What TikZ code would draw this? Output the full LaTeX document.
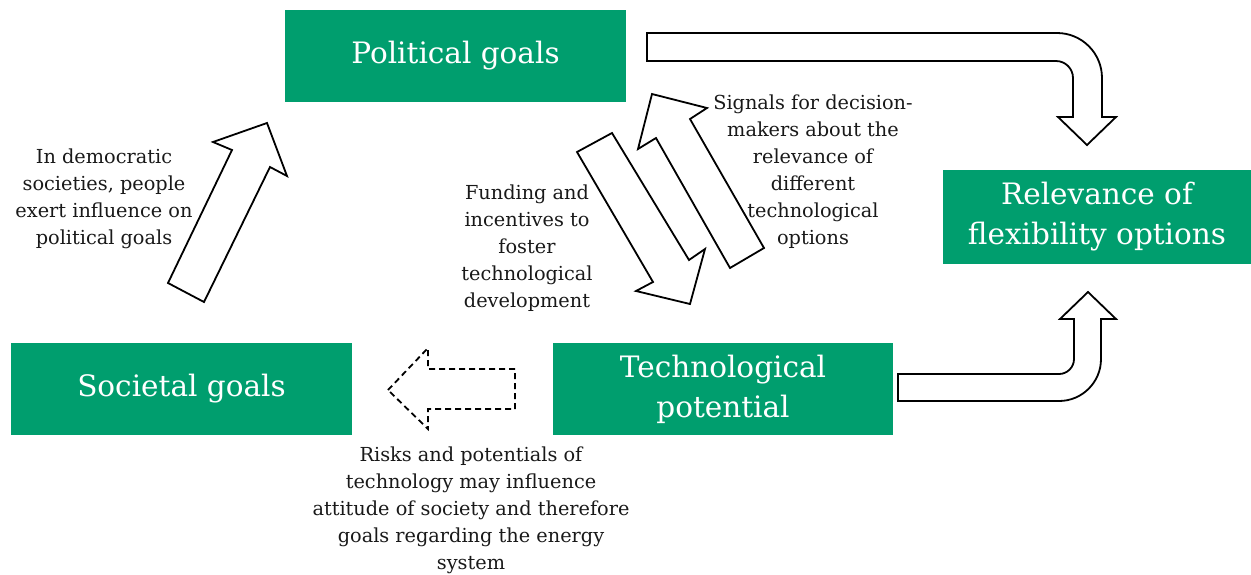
\documentclass[tikz,border=0pt]{standalone}
\usepackage{fontspec}
\setmainfont{DejaVu Serif}
\definecolor{boxgreen}{RGB}{0,158,110}
\tikzset{
  gbox/.style={fill=boxgreen, draw=none, inner sep=0pt, text=white, align=center,
    font=\fontsize{29.5}{40}\selectfont},
  lbl/.style={inner sep=0pt, align=center, text=black!90, font=\fontsize{19.3}{27}\selectfont},
  barrow/.style={draw=black, fill=white, line width=1.8pt, line join=miter},
  darrow/.style={draw=black, fill=white, line width=1.8pt, dash pattern=on 6pt off 4pt}
}
\begin{document}
\begin{tikzpicture}[x=1pt,y=-1pt]
\useasboundingbox (0,0) rectangle (1251,574);
% boxes
\node[gbox, minimum width=341pt, minimum height=92pt] (pol) at (455.5,56) {Political goals};
\node[gbox, minimum width=308pt, minimum height=94pt] (rel) at (1097,217) {Relevance of\\flexibility options};
\node[gbox, minimum width=341pt, minimum height=92pt] (soc) at (181.5,389) {Societal goals};
\node[gbox, minimum width=340pt, minimum height=92pt] (tec) at (723,389) {Technological\\potential};
% block arrows
\draw[barrow] (647,33) -- (1057,33) arc[start angle=-90,end angle=0,radius=45]
  -- (1102,117) -- (1116,117) -- (1087,145) -- (1058,117) -- (1073,117) -- (1073,78)
  arc[start angle=0,end angle=-90,radius=17] -- (647,61) -- cycle;
\draw[barrow] (898,374) -- (1059,374) arc[start angle=90,end angle=0,radius=15]
  -- (1074,319) -- (1060,319) -- (1088,292) -- (1116,319) -- (1101,319) -- (1101,359)
  arc[start angle=0,end angle=90,radius=42] -- (898,401) -- cycle;
\draw[barrow] (168,283) -- (232,150) -- (213,142) -- (267,123) -- (287,176) -- (270,167) -- (204,302) -- cycle;
\draw[barrow] (577,152) -- (612,133) -- (689,260) -- (705,249) -- (690,304) -- (636,291) -- (653,282) -- cycle;
\draw[barrow] (730,268) -- (656,138) -- (638,149) -- (652,94) -- (707,108) -- (690,119) -- (764,248) -- cycle;
\draw[darrow] (388,390) -- (428,348) -- (428,369) -- (515,369) -- (515,409) -- (428,409) -- (428,429) -- cycle;
% labels
\node[lbl] (tdem) at (104,199) {In democratic\\societies, people\\exert influence on\\political goals};
\node[lbl] (tfund) at (527,248) {Funding and\\incentives to\\foster\\technological\\development};
\node[lbl] (tsig) at (813,172) {Signals for decision-\\makers about the\\relevance of\\different\\technological\\options};
\node[lbl] (trisk) at (471,510) {Risks and potentials of\\technology may influence\\attitude of society and therefore\\goals regarding the energy\\system};
\end{tikzpicture}
\end{document}
